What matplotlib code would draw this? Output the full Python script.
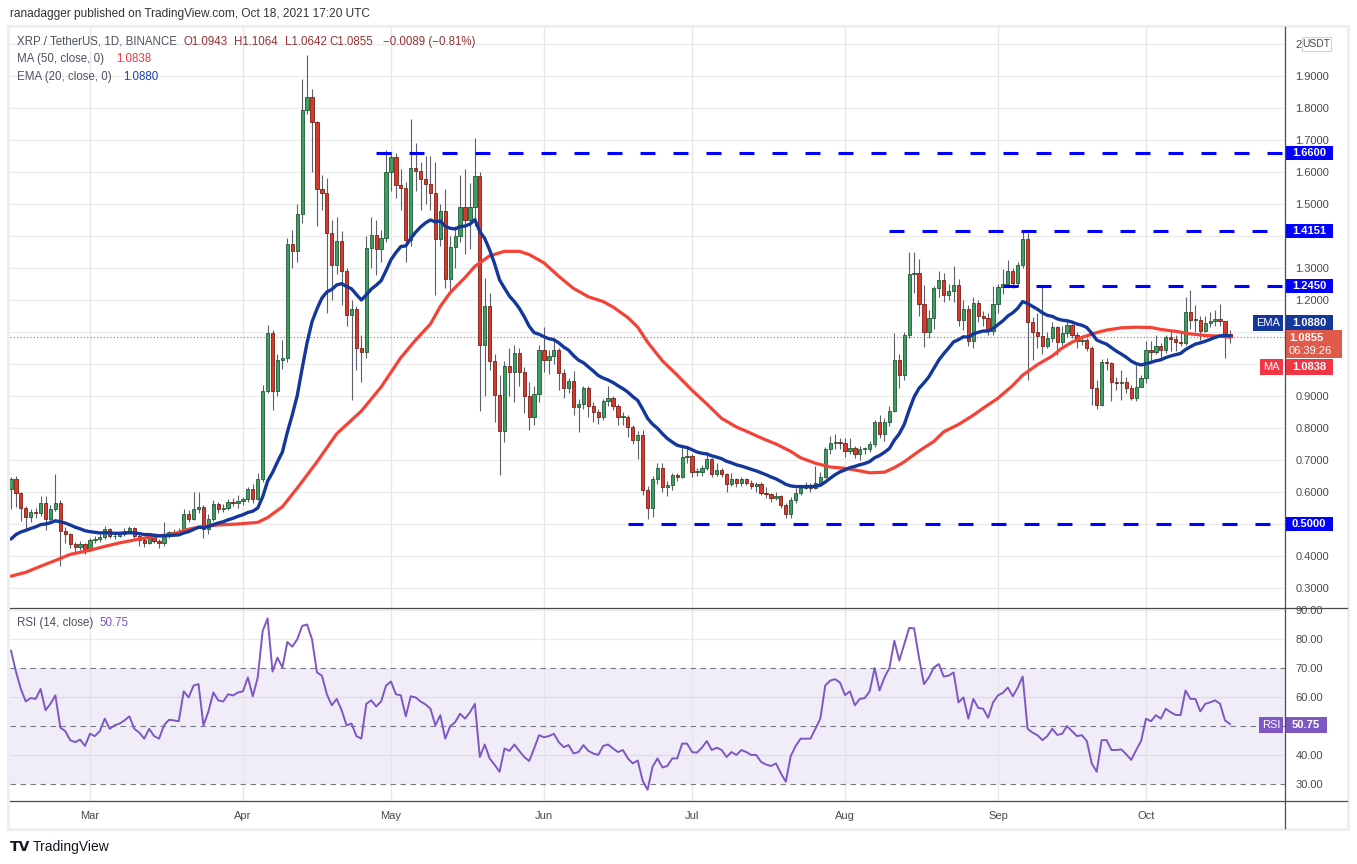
import numpy as np
import pandas as pd
import matplotlib
matplotlib.use("Agg")
import matplotlib.pyplot as plt
import matplotlib.dates as mdates
from matplotlib import transforms
from matplotlib.patches import Rectangle
from matplotlib.lines import Line2D

plt.rcParams['font.family'] = ['Liberation Sans', 'DejaVu Sans']

# ---- data (XRP/USDT daily, Feb 13 -> Oct 18 2021) ----
first_open = 0.609
closes = [
    0.640, 0.598, 0.551, 0.523, 0.539, 0.535, 0.567, 0.516, 0.547, 0.567,
    0.477, 0.469, 0.438, 0.427, 0.438, 0.418, 0.449, 0.453, 0.458, 0.484,
    0.461, 0.464, 0.469, 0.477, 0.488, 0.464, 0.449, 0.441, 0.464, 0.446,
    0.441, 0.464, 0.474, 0.470, 0.477, 0.531, 0.516, 0.547, 0.554, 0.484,
    0.516, 0.562, 0.547, 0.551, 0.570, 0.567, 0.573, 0.578, 0.609, 0.578,
    0.640, 0.917, 1.096, 0.917, 1.013, 1.018, 1.375, 1.354, 1.469, 1.794,
    1.834, 1.755, 1.547, 1.534, 1.410, 1.309, 1.383, 1.290, 1.153, 1.172,
    1.049, 1.036, 1.363, 1.402, 1.360, 1.394, 1.600, 1.648, 1.558, 1.550,
    1.386, 1.612, 1.604, 1.578, 1.562, 1.534, 1.390, 1.477, 1.267, 1.366,
    1.399, 1.491, 1.449, 1.492, 1.587, 1.060, 1.180, 1.009, 0.904, 0.792,
    0.993, 0.974, 1.033, 0.974, 0.900, 0.834, 0.907, 1.044, 1.013, 1.026,
    1.044, 0.971, 0.925, 0.946, 0.866, 0.876, 0.925, 0.870, 0.850, 0.834,
    0.884, 0.893, 0.870, 0.834, 0.834, 0.803, 0.761, 0.777, 0.606, 0.551,
    0.640, 0.674, 0.617, 0.621, 0.652, 0.648, 0.710, 0.713, 0.663, 0.663,
    0.676, 0.702, 0.656, 0.668, 0.656, 0.624, 0.640, 0.627, 0.640, 0.629,
    0.620, 0.624, 0.598, 0.593, 0.582, 0.586, 0.559, 0.531, 0.575, 0.598,
    0.614, 0.620, 0.612, 0.629, 0.648, 0.733, 0.754, 0.757, 0.752, 0.729,
    0.738, 0.718, 0.733, 0.733, 0.749, 0.819, 0.780, 0.819, 0.853, 1.013,
    0.967, 1.091, 1.281, 1.283, 1.187, 1.099, 1.145, 1.236, 1.262, 1.215,
    1.228, 1.247, 1.138, 1.173, 1.072, 1.192, 1.149, 1.145, 1.102, 1.187,
    1.239, 1.251, 1.290, 1.254, 1.309, 1.391, 1.130, 1.099, 1.086, 1.055,
    1.080, 1.117, 1.068, 1.096, 1.121, 1.091, 1.071, 1.075, 1.049, 0.925,
    0.873, 1.005, 1.002, 0.943, 0.942, 0.945, 0.925, 0.893, 0.928, 0.956,
    1.044, 1.036, 1.057, 1.044, 1.083, 1.079, 1.068, 1.065, 1.161, 1.138,
    1.138, 1.102, 1.127, 1.133, 1.142, 1.134, 1.094, 1.0855,
]
highs = [
    0.648, 0.650, 0.600, 0.555, 0.548, 0.549, 0.588, 0.588, 0.560, 0.656,
    0.575, 0.492, 0.472, 0.445, 0.448, 0.442, 0.455, 0.462, 0.468, 0.495,
    0.488, 0.472, 0.474, 0.486, 0.494, 0.490, 0.468, 0.455, 0.470, 0.468,
    0.452, 0.505, 0.478, 0.484, 0.488, 0.548, 0.545, 0.600, 0.600, 0.560,
    0.530, 0.575, 0.568, 0.562, 0.578, 0.582, 0.590, 0.585, 0.615, 0.625,
    0.660, 0.935, 1.122, 1.105, 1.030, 1.075, 1.394, 1.420, 1.500, 1.890,
    1.967, 1.860, 1.760, 1.590, 1.580, 1.450, 1.460, 1.417, 1.300, 1.200,
    1.180, 1.090, 1.400, 1.460, 1.450, 1.420, 1.670, 1.663, 1.660, 1.610,
    1.570, 1.764, 1.690, 1.630, 1.650, 1.650, 1.630, 1.500, 1.547, 1.400,
    1.430, 1.589, 1.609, 1.565, 1.705, 1.600, 1.270, 1.223, 1.030, 0.967,
    1.010, 1.050, 1.060, 1.050, 0.990, 0.943, 0.930, 1.060, 1.117, 1.045,
    1.071, 1.050, 0.985, 0.955, 0.977, 0.890, 0.930, 0.930, 0.880, 0.860,
    0.890, 0.930, 0.900, 0.875, 0.850, 0.840, 0.810, 0.790, 0.795, 0.620,
    0.650, 0.690, 0.691, 0.635, 0.660, 0.660, 0.741, 0.740, 0.720, 0.675,
    0.685, 0.720, 0.705, 0.690, 0.675, 0.660, 0.660, 0.645, 0.648, 0.645,
    0.636, 0.632, 0.630, 0.615, 0.598, 0.600, 0.590, 0.565, 0.585, 0.612,
    0.622, 0.632, 0.628, 0.682, 0.662, 0.742, 0.775, 0.780, 0.770, 0.770,
    0.770, 0.745, 0.745, 0.740, 0.760, 0.825, 0.840, 0.830, 0.870, 1.096,
    1.030, 1.100, 1.350, 1.351, 1.329, 1.246, 1.170, 1.245, 1.290, 1.285,
    1.250, 1.306, 1.267, 1.200, 1.185, 1.210, 1.200, 1.165, 1.160, 1.243,
    1.250, 1.298, 1.324, 1.300, 1.320, 1.413, 1.410, 1.148, 1.160, 1.246,
    1.100, 1.130, 1.120, 1.120, 1.140, 1.125, 1.100, 1.090, 1.080, 1.055,
    0.950, 1.016, 1.020, 1.005, 0.960, 0.982, 0.960, 0.935, 0.998, 0.965,
    1.072, 1.072, 1.091, 1.065, 1.091, 1.107, 1.090, 1.100, 1.208, 1.231,
    1.184, 1.150, 1.150, 1.161, 1.169, 1.187, 1.130, 1.1064,
]
lows = [
    0.547, 0.554, 0.508, 0.484, 0.505, 0.520, 0.525, 0.480, 0.510, 0.540,
    0.368, 0.440, 0.425, 0.410, 0.420, 0.405, 0.415, 0.440, 0.445, 0.452,
    0.455, 0.452, 0.458, 0.462, 0.470, 0.455, 0.432, 0.428, 0.438, 0.440,
    0.425, 0.432, 0.455, 0.462, 0.465, 0.474, 0.505, 0.512, 0.535, 0.455,
    0.470, 0.510, 0.535, 0.538, 0.545, 0.555, 0.550, 0.560, 0.570, 0.565,
    0.575, 0.630, 0.910, 0.857, 0.900, 0.985, 1.005, 1.300, 1.320, 1.440,
    1.780, 1.600, 1.430, 1.480, 1.160, 1.200, 1.280, 1.184, 1.120, 0.889,
    0.980, 0.943, 1.020, 1.300, 1.278, 1.320, 1.380, 1.540, 1.520, 1.480,
    1.320, 1.370, 1.540, 1.480, 1.500, 1.480, 1.215, 1.370, 1.236, 1.220,
    1.300, 1.380, 1.344, 1.360, 1.430, 0.853, 0.900, 0.980, 0.819, 0.652,
    0.757, 0.900, 0.881, 0.931, 0.847, 0.795, 0.810, 0.881, 0.974, 0.970,
    1.000, 0.920, 0.893, 0.910, 0.840, 0.788, 0.860, 0.834, 0.820, 0.811,
    0.825, 0.870, 0.855, 0.810, 0.810, 0.772, 0.750, 0.702, 0.590, 0.516,
    0.523, 0.625, 0.600, 0.586, 0.605, 0.635, 0.645, 0.690, 0.648, 0.650,
    0.650, 0.670, 0.648, 0.650, 0.648, 0.600, 0.618, 0.615, 0.620, 0.622,
    0.610, 0.600, 0.590, 0.580, 0.570, 0.575, 0.550, 0.519, 0.520, 0.565,
    0.592, 0.608, 0.600, 0.608, 0.622, 0.645, 0.720, 0.735, 0.735, 0.710,
    0.720, 0.705, 0.700, 0.718, 0.725, 0.740, 0.770, 0.760, 0.805, 0.850,
    0.925, 0.951, 1.080, 1.223, 1.150, 1.052, 1.080, 1.110, 1.210, 1.195,
    1.200, 1.195, 1.120, 1.107, 1.057, 1.050, 1.130, 1.120, 1.090, 1.090,
    1.158, 1.220, 1.240, 1.236, 1.240, 1.300, 0.951, 1.013, 1.050, 1.032,
    1.050, 1.070, 1.029, 1.060, 1.085, 1.080, 1.050, 1.060, 1.040, 0.873,
    0.858, 0.870, 0.980, 0.884, 0.920, 0.889, 0.910, 0.889, 0.885, 0.940,
    0.940, 1.010, 1.030, 1.020, 1.035, 1.040, 1.040, 1.055, 1.060, 1.110,
    1.100, 1.075, 1.100, 1.115, 1.120, 1.120, 1.018, 1.0642,
]
ema20 = [
    0.453, 0.467, 0.475, 0.480, 0.486, 0.491, 0.498, 0.500, 0.504, 0.510,
    0.507, 0.503, 0.497, 0.490, 0.485, 0.479, 0.476, 0.474, 0.472, 0.473,
    0.472, 0.471, 0.471, 0.472, 0.473, 0.472, 0.470, 0.467, 0.467, 0.465,
    0.463, 0.463, 0.464, 0.465, 0.466, 0.472, 0.476, 0.483, 0.490, 0.489,
    0.492, 0.498, 0.503, 0.507, 0.513, 0.518, 0.524, 0.529, 0.536, 0.540,
    0.550, 0.585, 0.634, 0.661, 0.694, 0.725, 0.787, 0.841, 0.901, 0.986,
    1.067, 1.132, 1.172, 1.206, 1.225, 1.233, 1.247, 1.251, 1.242, 1.235,
    1.217, 1.200, 1.216, 1.234, 1.246, 1.260, 1.292, 1.326, 1.348, 1.367,
    1.369, 1.392, 1.412, 1.428, 1.441, 1.450, 1.444, 1.447, 1.430, 1.424,
    1.422, 1.429, 1.431, 1.437, 1.451, 1.414, 1.392, 1.356, 1.313, 1.263,
    1.237, 1.212, 1.195, 1.174, 1.148, 1.118, 1.098, 1.093, 1.085, 1.079,
    1.076, 1.066, 1.053, 1.043, 1.026, 1.012, 1.004, 0.991, 0.978, 0.964,
    0.956, 0.950, 0.942, 0.932, 0.923, 0.912, 0.898, 0.886, 0.859, 0.830,
    0.812, 0.799, 0.782, 0.767, 0.756, 0.746, 0.742, 0.739, 0.732, 0.725,
    0.721, 0.719, 0.713, 0.709, 0.704, 0.696, 0.691, 0.685, 0.681, 0.676,
    0.671, 0.666, 0.660, 0.654, 0.647, 0.641, 0.633, 0.624, 0.619, 0.617,
    0.617, 0.617, 0.617, 0.618, 0.621, 0.631, 0.643, 0.654, 0.663, 0.669,
    0.676, 0.680, 0.685, 0.689, 0.695, 0.707, 0.714, 0.724, 0.736, 0.762,
    0.782, 0.811, 0.856, 0.897, 0.924, 0.941, 0.960, 0.986, 1.012, 1.032,
    1.050, 1.069, 1.076, 1.085, 1.084, 1.094, 1.099, 1.103, 1.103, 1.111,
    1.123, 1.135, 1.150, 1.160, 1.174, 1.195, 1.189, 1.180, 1.171, 1.160,
    1.152, 1.149, 1.141, 1.137, 1.135, 1.131, 1.125, 1.121, 1.114, 1.096,
    1.075, 1.068, 1.062, 1.051, 1.040, 1.031, 1.021, 1.009, 1.001, 0.997,
    1.001, 1.005, 1.010, 1.013, 1.020, 1.025, 1.029, 1.033, 1.045, 1.054,
    1.062, 1.066, 1.071, 1.077, 1.083, 1.088, 1.089, 1.088,
]
# 50-day MA, read at these day offsets from Feb 13
ma50_day = [0, 3, 6, 9, 12, 16, 19, 22, 26, 29, 33, 36, 39, 42, 46, 50, 52, 55,
            58, 62, 66, 71, 75, 79, 82, 85, 87, 89, 92, 94, 97, 100, 103, 105,
            108, 111, 114, 117, 120, 122, 125, 127, 129, 132, 135, 138, 141,
            144, 147, 149, 152, 155, 158, 160, 163, 166, 169, 172, 174, 177,
            179, 181, 184, 187, 189, 192, 195, 197, 200, 203, 205, 208, 211,
            213, 215, 217, 220, 222, 225, 228, 231, 233, 236, 239, 242, 245, 247]
ma50_val = [0.337, 0.349, 0.368, 0.386, 0.405, 0.418, 0.430, 0.441, 0.453, 0.461,
            0.469, 0.484, 0.492, 0.497, 0.500, 0.505, 0.520, 0.554, 0.612, 0.694,
            0.782, 0.853, 0.928, 1.020, 1.075, 1.125, 1.180, 1.223, 1.270, 1.305,
            1.338, 1.352, 1.352, 1.342, 1.316, 1.274, 1.236, 1.210, 1.195, 1.178,
            1.145, 1.115, 1.068, 1.010, 0.965, 0.918, 0.875, 0.830, 0.803, 0.790,
            0.769, 0.750, 0.727, 0.707, 0.690, 0.678, 0.674, 0.666, 0.660, 0.662,
            0.676, 0.694, 0.728, 0.758, 0.788, 0.811, 0.840, 0.862, 0.893, 0.933,
            0.965, 0.998, 1.025, 1.050, 1.068, 1.083, 1.098, 1.106, 1.113, 1.115,
            1.114, 1.108, 1.102, 1.094, 1.089, 1.087, 1.0838]
rsi14 = [
    76.0, 68.8, 62.8, 58.5, 59.7, 59.4, 62.8, 55.5, 57.7, 60.6,
    49.5, 48.3, 45.2, 44.5, 45.4, 43.2, 47.4, 46.6, 48.3, 52.6,
    49.1, 50.3, 50.9, 52.0, 53.4, 49.1, 47.8, 45.7, 49.1, 46.6,
    45.7, 50.3, 52.2, 52.0, 51.7, 62.0, 59.9, 64.0, 64.5, 50.3,
    55.0, 61.6, 58.9, 58.5, 61.0, 60.6, 61.6, 62.0, 66.8, 60.3,
    66.8, 82.8, 87.1, 68.8, 73.6, 70.2, 79.0, 77.4, 79.9, 84.5,
    85.0, 79.9, 68.5, 67.4, 61.0, 57.2, 59.4, 55.5, 50.3, 50.9,
    46.6, 45.7, 57.7, 58.9, 56.8, 58.5, 64.0, 65.4, 61.0, 60.6,
    53.4, 60.3, 59.9, 58.5, 57.5, 56.0, 50.3, 53.8, 45.7, 50.0,
    51.4, 54.3, 52.6, 54.8, 57.7, 39.4, 43.7, 38.9, 36.7, 34.3,
    42.3, 41.5, 43.7, 41.5, 39.4, 38.0, 42.3, 46.9, 46.2, 46.6,
    47.4, 44.5, 42.8, 43.5, 40.6, 41.1, 43.5, 41.5, 40.6, 40.1,
    43.2, 43.7, 42.3, 41.1, 41.8, 38.9, 37.2, 38.2, 31.2, 28.1,
    36.0, 38.9, 35.8, 36.3, 38.9, 38.9, 44.0, 44.0, 41.1, 40.9,
    42.6, 44.9, 41.8, 42.6, 41.8, 39.4, 41.1, 40.1, 41.8, 41.1,
    40.1, 40.1, 37.7, 36.8, 36.3, 37.2, 33.8, 30.9, 39.7, 43.2,
    45.7, 45.7, 45.7, 49.1, 52.6, 64.0, 65.7, 66.2, 65.0, 60.7,
    62.0, 57.2, 59.4, 59.7, 62.0, 70.0, 62.3, 66.8, 70.0, 79.4,
    72.6, 78.2, 83.8, 83.7, 73.6, 64.5, 66.8, 70.2, 71.4, 67.1,
    67.4, 68.5, 58.2, 59.9, 52.6, 59.4, 56.3, 56.0, 52.9, 58.2,
    60.6, 61.5, 63.3, 60.3, 63.3, 67.1, 49.1, 47.8, 46.9, 45.2,
    46.6, 49.1, 47.0, 47.4, 50.0, 48.3, 46.6, 46.9, 44.9, 37.2,
    34.3, 45.2, 45.2, 41.8, 41.8, 42.0, 40.3, 38.4, 41.8, 44.9,
    52.6, 51.7, 53.8, 52.6, 56.0, 54.8, 53.9, 53.8, 62.3, 59.4,
    59.4, 55.1, 57.7, 58.2, 58.9, 57.7, 52.0, 50.75,
]
levels = [1.6600, 1.4151, 1.2450, 0.5000]
level_start_day = [74, 178, 201, 125]
last_open, last_price, last_change, last_pct = 1.0943, 1.0855, -0.0089, -0.81
ma_last, ema_last, rsi_last = 1.0838, 1.0880, 50.75
countdown = "06:39:26"
# price scale labels (the ones hidden behind the value boxes are left blank)
price_ticks = [0.3, 0.4, 0.5, 0.6, 0.7, 0.8, 0.9, 1.0, 1.1, 1.2, 1.3, 1.4, 1.5,
               1.6, 1.7, 1.8, 1.9, 2.0]
price_tick_labels = ["0.3000", "0.4000", "", "0.6000", "0.7000", "0.8000", "0.9000",
                     "", "", "1.2000", "1.3000", "", "1.5000", "1.6000", "1.7000",
                     "1.8000", "1.9000", "2"]
rsi_ticks = [30, 40, 50, 60, 70, 80, 90]
rsi_tick_labels = ["30.00", "40.00", "", "60.00", "70.00", "80.00", "90.00"]

dates = pd.date_range("2021-02-13", periods=len(closes), freq="D")
x = mdates.date2num(dates)
opens = [first_open] + closes[:-1]
opens[-1] = last_open

# ---- figure / layout (pixel based, 1357x864 at 100 dpi) ----
W, H = 1357, 864
fig = plt.figure(figsize=(W / 100, H / 100), dpi=100)
PX = transforms.Affine2D().scale(1 / W, -1 / H).translate(0, 1) + fig.transFigure

L, R, T, SEP, BOT = 10, 1285, 27, 608, 801
ax = fig.add_axes([L / W, (H - SEP) / H, (R - L) / W, (SEP - T) / H])
ax2 = fig.add_axes([L / W, (H - BOT) / H, (R - L) / W, (BOT - SEP) / H], sharex=ax)

x_left = x[0] - 0.2
x_right = x_left + (R - L) / 4.935
ax.set_xlim(x_left, x_right)
ax.set_ylim(0.2375, 2.053)
ax2.set_ylim(24.25, 90.69)

for a in (ax, ax2):
    for s in a.spines.values():
        s.set_visible(False)
    a.xaxis.set_major_locator(mdates.MonthLocator())
    a.xaxis.set_major_formatter(mdates.DateFormatter('%b'))
    a.grid(True, axis='x', color='#e6e6e6', lw=1)
    a.yaxis.tick_right()
    a.tick_params(axis='both', length=0, labelsize=8, labelcolor='#4a4a4a')
    a.tick_params(axis='y', pad=7.5)
    a.set_axisbelow(True)

ax.tick_params(axis='x', labelbottom=False)
ax2.tick_params(axis='x', pad=7)
ax.set_yticks(price_ticks, labels=price_tick_labels)
ax.grid(True, axis='y', color='#ececec', lw=1)
ax2.set_yticks(rsi_ticks, labels=rsi_tick_labels)
for g in [40, 60, 80, 90]:
    ax2.axhline(g, color='#ececec', lw=1, zorder=0)

# ---- candles ----
up_fill, up_edge = '#3f9d62', '#1f5a35'
dn_fill, dn_edge = '#d63a2c', '#7a1f17'
for xi, o, c, hi, lo in zip(x, opens, closes, highs, lows):
    up = c >= o
    ax.vlines(xi, lo, hi, color='#5d606b', lw=0.8, zorder=3)
    ax.bar(xi, max(abs(c - o), 0.003), bottom=min(o, c), width=0.66,
           color=up_fill if up else dn_fill, edgecolor=up_edge if up else dn_edge,
           linewidth=0.6, zorder=4)

ax.plot(mdates.date2num(dates[ma50_day]), ma50_val, color='#f44336', lw=2.3, zorder=5,
        solid_capstyle='round')
ax.plot(x, ema20, color='#14379c', lw=2.4, zorder=6, solid_capstyle='round')

for lvl, d0 in zip(levels, level_start_day):
    ax.plot([x[d0], x_right], [lvl, lvl], color='#0000ff', lw=2.2,
            ls=(0, (4.9, 5.9)), zorder=7)

ax.axhline(last_price, color='#e0584a', lw=0.8, ls=(0, (1, 2)), zorder=2)

# ---- RSI panel ----
ax2.axhspan(30, 70, color='#7e57c2', alpha=0.1, lw=0, zorder=0)
for g in [70, 50, 30]:
    ax2.axhline(g, color='#787b86', lw=0.8, ls=(0, (5, 4)), zorder=1)
ax2.plot(x, rsi14, color='#7e57c2', lw=1.4, zorder=3)

# ---- frame / separators ----
fig.add_artist(Rectangle((8, 26), 1340, 803, transform=PX, fill=False,
                         ec='#eceef3', lw=2.2))
for (x0, y0, x1, y1) in [(L, SEP, 1347, SEP), (L, BOT, 1347, BOT), (R, T, R, 828)]:
    fig.add_artist(Line2D([x0, x1], [y0, y1], transform=PX, color='#4a4a4a', lw=0.9))

# ---- texts ----
FS = 8.3
fig.text(10, 14, "ranadagger published on TradingView.com, Oct 18, 2021 17:20 UTC",
         transform=PX, fontsize=8.6, color='#333333', va='center')
fig.text(17, 42, "XRP / TetherUS, 1D, BINANCE", transform=PX, fontsize=FS,
         color='#4c525e', va='center')
ohlc_txt = [(183, f"O{last_open:.4f}"), (234, f"H{highs[-1]:.4f}"), (285, f"L{lows[-1]:.4f}"),
            (329, f"C{last_price:.4f}"),
            (383, f"\u2212{abs(last_change):.4f} (\u2212{abs(last_pct):.2f}%)")]
for xx, t in ohlc_txt:
    fig.text(xx, 42, t, transform=PX, fontsize=FS, color='#943232', va='center')
fig.text(17, 59, "MA (50, close, 0)", transform=PX, fontsize=FS, color='#4c525e', va='center')
fig.text(116, 59, f"{ma_last:.4f}", transform=PX, fontsize=FS, color='#f23645', va='center')
fig.text(17, 77, "EMA (20, close, 0)", transform=PX, fontsize=FS, color='#4c525e', va='center')
fig.text(123, 77, f"{ema_last:.4f}", transform=PX, fontsize=FS, color='#1e3fa8', va='center')
fig.text(17, 623, "RSI (14, close)", transform=PX, fontsize=FS, color='#4c525e', va='center')
fig.text(99, 623, f"{rsi_last:.2f}", transform=PX, fontsize=FS, color='#7e57c2', va='center')

fig.text(10, 847, "TV", transform=PX, fontsize=10, fontweight='bold', color='#131722',
         va='center', family=['DejaVu Sans'])
fig.text(33, 847, "TradingView", transform=PX, fontsize=10, color='#131722', va='center')


def ypx(a, v):
    return H - a.transData.transform((x[0], v))[1]


def box(x0, x1, yc, h, text, fc, tc='white', bold=False, size=8, ec='none'):
    fig.add_artist(Rectangle((x0, yc - h / 2), x1 - x0, h, transform=PX, fc=fc, ec=ec, lw=0.8))
    fig.text((x0 + x1) / 2, yc, text, transform=PX, ha='center', va='center',
             fontsize=size, color=tc, fontweight='bold' if bold else 'normal')


box(1302, 1331, 44, 14, "USDT", 'white', tc='#4a4a4a', size=7.5, ec='#d1d4dc')
for lvl in levels:
    box(1285, 1333, ypx(ax, lvl), 14, f"{lvl:.4f}", '#0000ff', bold=True)
box(1253, 1283, 323, 16, "EMA", '#14379c')
box(1285, 1333, 323, 16, f"{ema_last:.4f}", '#14379c', bold=True)
box(1285, 1342, 344, 28, "", '#df5a4b')
fig.text(1289, 338, f"{last_price:.4f}", transform=PX, fontsize=8, color='white',
         fontweight='bold', va='center')
fig.text(1289, 351, countdown, transform=PX, fontsize=8, color='white', va='center')
box(1260, 1283, 367, 16, "MA", '#f23645')
box(1285, 1333, 367, 16, f"{ma_last:.4f}", '#f23645', bold=True)
box(1259, 1283, ypx(ax2, rsi_last) + 1, 16, "RSI", '#7e57c2')
box(1285, 1327, ypx(ax2, rsi_last) + 1, 16, f"{rsi_last:.2f}", '#7e57c2', bold=True)

fig.savefig("out.png", dpi=100)
